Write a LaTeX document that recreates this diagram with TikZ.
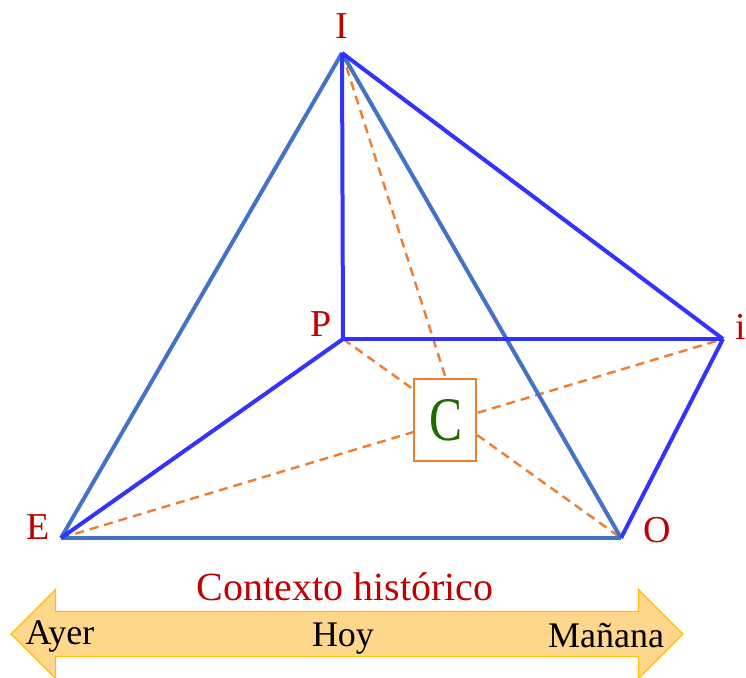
\documentclass[tikz,border=0pt]{standalone}
\usepackage{fontspec}
\setmainfont{Liberation Serif}
\newfontfamily\tallfont[FakeStretch=0.8]{Liberation Serif}
\usepackage{xcolor}
\usetikzlibrary{shapes.arrows, positioning}
\definecolor{primary}{HTML}{3333FF}
\definecolor{steel}{HTML}{4472C4}
\definecolor{accent}{HTML}{ED7D31}
\definecolor{wine}{HTML}{C00000}
\definecolor{leaf}{HTML}{1E6B00}
\definecolor{bandfill}{HTML}{FFD78C}
\definecolor{bandline}{HTML}{FFC000}

\begin{document}
\begin{tikzpicture}[
    x=1pt, y=-1pt,
    every node/.style={font=\fontsize{38}{40}\selectfont},
    vertex/.style={text=wine, inner sep=0pt},
    edgeA/.style={draw=primary, line width=4pt},
    edgeB/.style={draw=steel, line width=4pt},
    guide/.style={draw=accent, line width=2.4pt, dash pattern=on 9pt off 6pt},
    centerbox/.style={rectangle, draw=accent, line width=1.3pt, fill=white,
                  minimum width=62pt, minimum height=82pt, inner sep=0pt,
                  text=leaf, font=\fontsize{62}{64}\tallfont},
    band/.style={double arrow, draw=bandline, fill=bandfill, line width=1.2pt,
                 minimum height=672pt, inner sep=0pt,
                 double arrow head extend=22pt},
    bandtext/.style={text=black, inner sep=0pt, font=\fontsize{36}{38}\selectfont}
]
\useasboundingbox (0,0) rectangle (746,677);

\coordinate (I) at (342,53);
\coordinate (P) at (343,339);
\coordinate (i) at (723,339);
\coordinate (E) at (61,538);
\coordinate (O) at (621,538);
\coordinate (Ctop) at (446,379);

% guides run behind the box
\draw[guide] (E) -- (i);
\draw[guide] (P) -- (O);
\draw[guide] (I) -- (Ctop);
\node[centerbox] (C) at (445,420) {\hspace{2pt}\raisebox{-8pt}{C}};

\draw[edgeB] (I) -- (E);
\draw[edgeB] (I) -- (O);
\draw[edgeB] (E) -- (O);
\draw[edgeA] (I) -- (P);
\draw[edgeA] (P) -- (i);
\draw[edgeA] (I) -- (i);
\draw[edgeA] (P) -- (E);
\draw[edgeA] (i) -- (O);

\node[vertex] (lI) at (342,26) {I};
\node[vertex] (lP) at (321,324) {P};
\node[vertex] (li) at (741,327) {i};
\node[vertex] (lE) at (38,527) {E};
\node[vertex] (lO) at (657,530) {O};

\node[band] (time) at (347,634) {\rule[-22pt]{0pt}{44pt}};
\node[vertex, font=\fontsize{40}{42}\selectfont] (title) at (345,587) {Contexto histórico};
\node[bandtext] (ayer) at (60,636) {Ayer};
\node[bandtext] (hoy) at (343,639) {Hoy};
\node[bandtext] (manana) at (606,636) {Mañana};

\end{tikzpicture}
\end{document}
